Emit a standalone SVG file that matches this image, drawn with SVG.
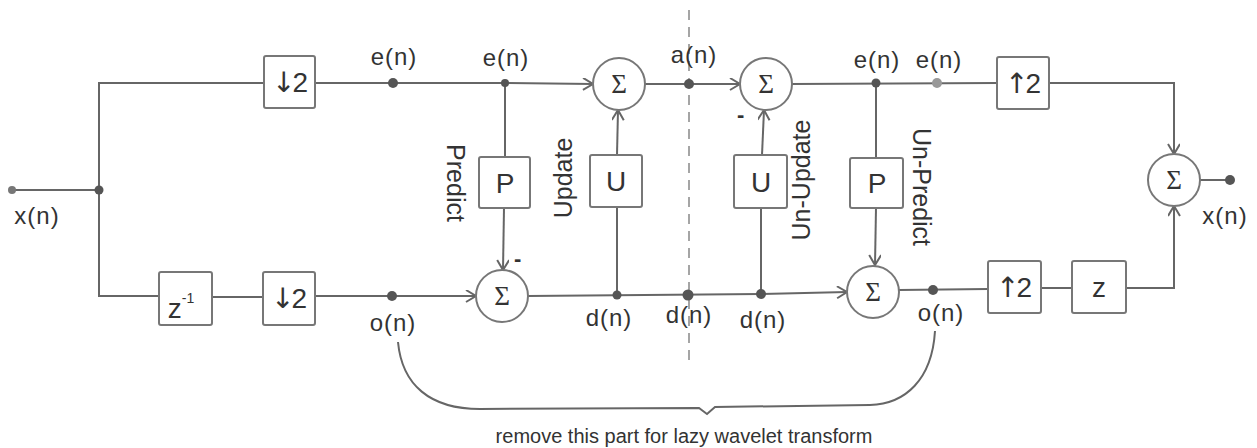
<svg xmlns="http://www.w3.org/2000/svg" width="1257" height="448" viewBox="0 0 1257 448">
<style>
.w{fill:none;stroke:#666;stroke-width:2}
.b{fill:#fff;stroke:#777;stroke-width:2}
.c{fill:#fff;stroke:#777;stroke-width:2}
.d{fill:#555}
.t{font-family:"Liberation Sans","DejaVu Sans",sans-serif;font-size:24px;fill:#333;letter-spacing:1px}
.bt{font-family:"Liberation Sans","DejaVu Sans",sans-serif;font-size:28px;fill:#333;text-anchor:middle}
.ar{font-family:"DejaVu Sans",sans-serif;font-weight:normal;letter-spacing:-3px}
.s{font-family:"Liberation Serif","DejaVu Serif",serif;font-size:27px;fill:#333;text-anchor:middle}
.r{font-family:"Liberation Sans","DejaVu Sans",sans-serif;font-size:25px;fill:#333;text-anchor:middle}
.m{font-family:"Liberation Sans","DejaVu Sans",sans-serif;font-size:22px;font-weight:bold;fill:#333}
.n{font-family:"Liberation Sans","DejaVu Sans",sans-serif;font-size:20px;fill:#333;text-anchor:middle}
.a{marker-end:url(#ar)}
</style>
<defs>
<marker id="ar" markerUnits="userSpaceOnUse" markerWidth="14" markerHeight="14" refX="11" refY="6" orient="auto">
<path d="M1,0 L11,6 L1,12" fill="none" stroke="#666" stroke-width="2"/>
</marker>
</defs>
<rect width="1257" height="448" fill="#fff"/>
<g id="connectors">
<line class="w" x1="12" y1="190" x2="99" y2="190"/>
<polyline class="w" points="264,83 99,83 99,296 159,296"/>
<line class="w" x1="212" y1="297" x2="263" y2="297"/>
<line class="w" x1="315" y1="83" x2="505" y2="83"/>
<line class="w a" x1="505" y1="83" x2="593" y2="84"/>
<line class="w" x1="315" y1="296" x2="392" y2="296"/>
<line class="w a" x1="392" y1="296" x2="476" y2="296"/>
<line class="w" x1="505" y1="83" x2="505" y2="157"/>
<line class="w a" x1="504" y1="208" x2="503" y2="270"/>
<line class="w" x1="528" y1="296" x2="761" y2="294"/>
<line class="w a" x1="761" y1="294" x2="847" y2="292"/>
<line class="w" x1="617" y1="295" x2="617" y2="207"/>
<line class="w a" x1="617" y1="155" x2="618" y2="110"/>
<line class="w" x1="761" y1="294" x2="761" y2="208"/>
<line class="w a" x1="762" y1="155" x2="764" y2="110"/>
<line class="w" x1="645" y1="84" x2="689" y2="84"/>
<line class="w a" x1="689" y1="84" x2="740" y2="84"/>
<line class="w" x1="792" y1="84" x2="997" y2="83"/>
<line class="w" x1="876" y1="83" x2="876" y2="158"/>
<line class="w a" x1="876" y1="208" x2="875" y2="265"/>
<line class="w" x1="899" y1="290" x2="988" y2="289"/>
<line class="w" x1="1041" y1="288" x2="1072" y2="288"/>
<polyline class="w a" points="1049,83 1174,83 1174,154"/>
<polyline class="w a" points="1126,288 1174,288 1174,206"/>
<line class="w" x1="1200" y1="180" x2="1230" y2="180"/>
<line x1="689" y1="10" x2="689" y2="365" stroke="#888" stroke-width="1.5" stroke-dasharray="10 7"/>
<path class="w" d="M398,342 C402,385 430,409 480,409 L699,408 L707,414 L715,407 L870,405 C905,404 932,380 935,331"/>
</g>
<g id="dots">
<circle cx="12" cy="190" r="4" fill="#777"/>
<circle class="d" cx="99" cy="190" r="4.5"/>
<circle class="d" cx="393" cy="83" r="5"/>
<circle class="d" cx="505" cy="83" r="4"/>
<circle class="d" cx="689" cy="84" r="5"/>
<circle class="d" cx="876" cy="83" r="4.5"/>
<circle cx="937" cy="83" r="5" fill="#999"/>
<circle class="d" cx="1230" cy="180" r="5"/>
<circle class="d" cx="392" cy="296" r="5"/>
<circle class="d" cx="617" cy="295" r="4.5"/>
<circle class="d" cx="688" cy="295" r="5.5"/>
<circle class="d" cx="761" cy="294" r="5"/>
<circle class="d" cx="933" cy="290" r="5"/>
</g>
<g id="down2top"><rect class="b" x="264" y="56" width="51" height="52" rx="2"/><text class="bt" x="290" y="92"><tspan class="ar">↓</tspan>2</text></g>
<g id="zinv"><rect class="b" x="159" y="272" width="53" height="53" rx="2"/><text class="bt" x="181" y="318">z<tspan font-size="14" dy="-15">-1</tspan></text></g>
<g id="down2bot"><rect class="b" x="263" y="272" width="52" height="53" rx="2"/><text class="bt" x="289" y="308"><tspan class="ar">↓</tspan>2</text></g>
<g id="predict"><rect class="b" x="479" y="157" width="51" height="51" rx="2"/><text class="bt" x="505" y="193">P</text></g>
<g id="update"><rect class="b" x="590" y="155" width="52" height="52" rx="2"/><text class="bt" x="616" y="191">U</text></g>
<g id="unupdate"><rect class="b" x="734" y="155" width="53" height="53" rx="2"/><text class="bt" x="761" y="192">U</text></g>
<g id="unpredict"><rect class="b" x="850" y="158" width="53" height="50" rx="2"/><text class="bt" x="877" y="193">P</text></g>
<g id="up2top"><rect class="b" x="997" y="57" width="52" height="52" rx="2"/><text class="bt" x="1023" y="93"><tspan class="ar">↑</tspan>2</text></g>
<g id="up2bot"><rect class="b" x="988" y="261" width="53" height="52" rx="2"/><text class="bt" x="1014" y="297"><tspan class="ar">↑</tspan>2</text></g>
<g id="zbox"><rect class="b" x="1072" y="261" width="54" height="52" rx="2"/><text class="bt" x="1099" y="297">z</text></g>
<g id="sum1"><circle class="c" cx="502" cy="296" r="26"/><text class="s" x="502" y="305">Σ</text></g>
<g id="sum2"><circle class="c" cx="619" cy="84" r="26"/><text class="s" x="619" y="93">Σ</text></g>
<g id="sum3"><circle class="c" cx="766" cy="84" r="26"/><text class="s" x="766" y="93">Σ</text></g>
<g id="sum4"><circle class="c" cx="873" cy="292" r="26"/><text class="s" x="873" y="301">Σ</text></g>
<g id="sum5"><circle class="c" cx="1174" cy="180" r="26"/><text class="s" x="1174" y="189">Σ</text></g>
<g id="labels">
<text class="t" x="37" y="224" text-anchor="middle">x(n)</text>
<text class="t" x="1225" y="224" text-anchor="middle">x(n)</text>
<text class="t" x="394" y="65" text-anchor="middle">e(n)</text>
<text class="t" x="506" y="66" text-anchor="middle">e(n)</text>
<text class="t" x="694" y="63" text-anchor="middle">a(n)</text>
<text class="t" x="877" y="68" text-anchor="middle">e(n)</text>
<text class="t" x="939" y="68" text-anchor="middle">e(n)</text>
<text class="t" x="393" y="331" text-anchor="middle">o(n)</text>
<text class="t" x="609" y="326" text-anchor="middle">d(n)</text>
<text class="t" x="689" y="323" text-anchor="middle">d(n)</text>
<text class="t" x="763" y="328" text-anchor="middle">d(n)</text>
<text class="t" x="941" y="321" text-anchor="middle">o(n)</text>
<text class="r" transform="translate(447,183) rotate(90)">Predict</text>
<text class="r" transform="translate(572,178) rotate(-90)">Update</text>
<text class="r" transform="translate(810,180) rotate(-90)">Un-Update</text>
<text class="r" transform="translate(913,187) rotate(90)">Un-Predict</text>
<text class="m" x="514" y="266">-</text>
<text class="m" x="737" y="122">-</text>
<text class="n" x="684" y="443">remove this part for lazy wavelet transform</text>
</g>
</svg>
